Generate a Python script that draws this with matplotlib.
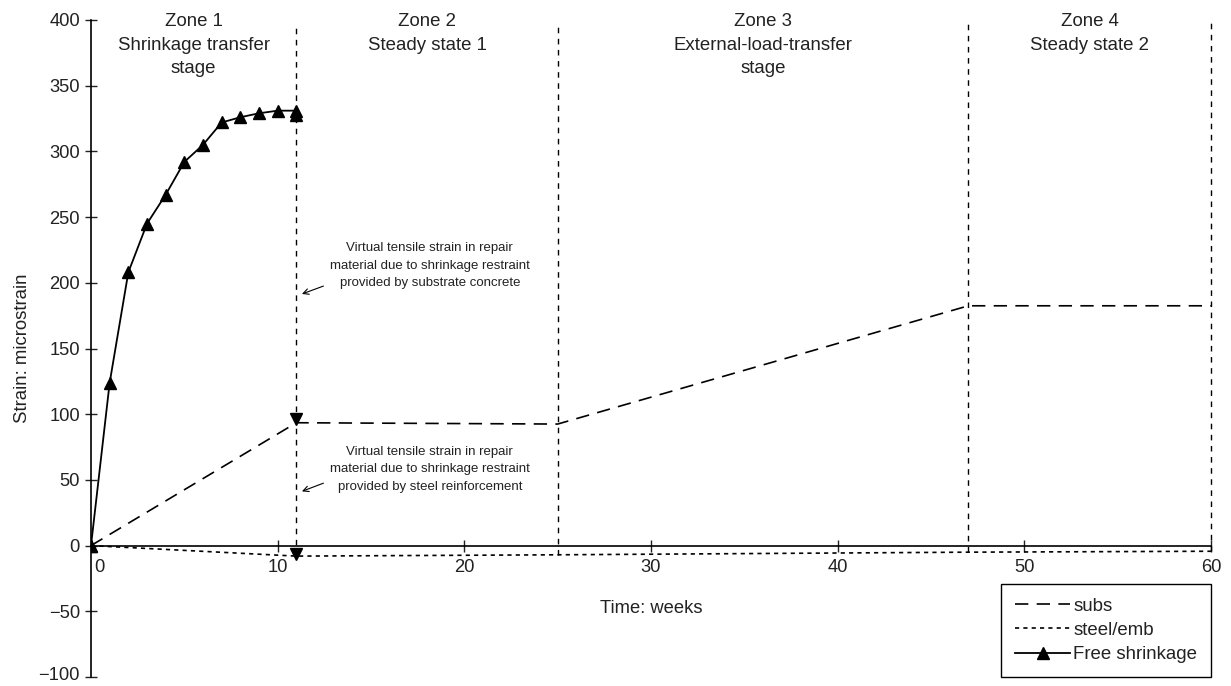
import numpy as np
import matplotlib
matplotlib.use('Agg')
import matplotlib.pyplot as plt
import matplotlib.transforms as mtransforms

plt.rcParams['font.family'] = ['Liberation Sans', 'DejaVu Sans']

# --- データ ---
free_x = [0, 1, 2, 3, 4, 5, 6, 7, 8, 9, 10, 11, 11]
free_y = [0, 124, 208, 245, 267, 292, 305, 322, 326, 329, 331, 331, 328]

subs_x = [0, 11, 25, 47, 60]
subs_y = [0, 93.5, 92.5, 182.5, 182.5]

steel_x = [0, 11, 25, 47, 60]
steel_y = [0, -8, -7, -5, -4.3]

# 区間の境界
zone_bounds = [11, 25, 47, 60]
zone_bottoms = [-8, -7, -5, -4.3]
zone_labels = ['Zone 1\nShrinkage transfer\nstage',
               'Zone 2\nSteady state 1',
               'Zone 3\nExternal-load-transfer\nstage',
               'Zone 4\nSteady state 2']
zone_centers = [5.5, 18, 36, 53.5]

note_text = ['Virtual tensile strain in repair\nmaterial due to shrinkage restraint\nprovided by substrate concrete',
             'Virtual tensile strain in repair\nmaterial due to shrinkage restraint\nprovided by steel reinforcement']
note_pos = [(18.15, 213), (18.15, 58)]
arrow_tip = [(11.3, 191.5), (11.3, 41.3)]
arrow_tail = [(12.45, 197.5), (12.45, 47.5)]

txt_col = '#222222'

fig = plt.figure(figsize=(12.31, 6.86), dpi=100)
ax = fig.add_axes([91 / 1231, 1 - 677 / 686, 1120 / 1231, 657 / 686])

ax.plot(subs_x, subs_y, color='black', lw=1.2, dashes=(8, 5), label='subs')
ax.plot(steel_x, steel_y, color='black', lw=1.2, dashes=(2.5, 2.5), label='steel/emb')
ax.plot(free_x, free_y, color='black', lw=1.3, marker='^', ms=8, label='Free shrinkage')
ax.plot([0], [0], color='black', marker='^', ms=8, ls='none')

# 下向き三角のマーカー
ax.plot([11], [96], color='black', marker='v', ms=8, ls='none')
ax.plot([11], [-6.5], color='black', marker='v', ms=8, ls='none')

# 縦の破線
for xb, yb in zip(zone_bounds, zone_bottoms):
    ax.plot([xb, xb], [yb, 398], color='black', lw=1.0, dashes=(4, 4), clip_on=False)

for xc, lab in zip(zone_centers, zone_labels):
    ax.text(xc, 405, lab, ha='center', va='top', fontsize=13.4, linespacing=1.5, color=txt_col)

# 注釈
for (tx, ty), s in zip(note_pos, note_text):
    ax.text(tx, ty, s, ha='center', va='center', fontsize=9.5, linespacing=1.62, color=txt_col)
for tip, tail in zip(arrow_tip, arrow_tail):
    ax.annotate('', xy=tip, xytext=tail,
                arrowprops=dict(arrowstyle='->', color='black', lw=0.8, shrinkA=0, shrinkB=0))

ax.set_xlim(0, 60)
ax.set_ylim(-100, 400)
ax.spines['top'].set_visible(False)
ax.spines['right'].set_visible(False)
ax.spines['bottom'].set_position(('data', 0))
ax.spines['left'].set_linewidth(1.2)
ax.spines['bottom'].set_linewidth(1.2)

ax.set_xticks([0, 10, 20, 30, 40, 50, 60])
ax.set_yticks(np.arange(-100, 401, 50))
ax.tick_params(axis='both', direction='inout', length=9, width=1.0, labelsize=13.2, colors=txt_col)
ax.tick_params(axis='x', pad=5)

# 0 のラベルを右にずらす
lbl0 = ax.get_xticklabels()[0]
lbl0.set_transform(lbl0.get_transform() + mtransforms.ScaledTranslation(8 / 100, 0, fig.dpi_scale_trans))
# -100 のラベルを少し上に
lblm = ax.get_yticklabels()[0]
lblm.set_transform(lblm.get_transform() + mtransforms.ScaledTranslation(0, 3 / 100, fig.dpi_scale_trans))

ax.text(30, -47.5, 'Time: weeks', ha='center', va='center', fontsize=13.2, color=txt_col)
ax.set_ylabel('Strain: microstrain', fontsize=13.4, color=txt_col)
ax.yaxis.set_label_coords(-0.054, 0.5)

leg = ax.legend(loc='lower right', bbox_to_anchor=(1.0, 0.0), borderaxespad=0, fontsize=13.4,
                fancybox=False, edgecolor='black', framealpha=1, handlelength=2.95,
                handletextpad=0.15, borderpad=0.75, labelspacing=0.38)
leg.get_frame().set_linewidth(1.0)
for t in leg.get_texts():
    t.set_color(txt_col)

plt.savefig('out.png', dpi=100)
